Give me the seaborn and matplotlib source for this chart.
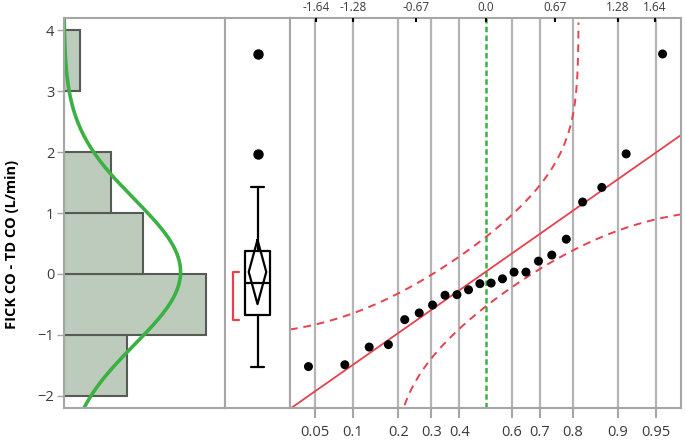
"""
Distribution of FICK CO - TD CO: histogram, outlier box plot and
normal quantile plot side by side.
"""

from statistics import NormalDist
import numpy as np
import matplotlib
matplotlib.use('Agg')
import matplotlib.pyplot as plt
import seaborn as sns


# values (sorted)
diff_values = [-1.52, -1.49, -1.20, -1.16, -0.75, -0.64, -0.51, -0.35, -0.34,
               -0.26, -0.16, -0.15, -0.08, 0.03, 0.03, 0.21, 0.31, 0.57,
               1.18, 1.42, 1.97, 3.61]
bin_edges = [-2, -1, 0, 1, 2, 3, 4]
y_ticks = [-2, -1, 0, 1, 2, 3, 4]
prob_ticks = [0.05, 0.1, 0.2, 0.3, 0.4, 0.6, 0.7, 0.8, 0.9, 0.95]
prob_labels = ['0.05', '0.1', '0.2', '0.3', '0.4', '0.6', '0.7', '0.8', '0.9', '0.95']
z_ticks = [-1.64, -1.28, -0.67, 0.0, 0.67, 1.28, 1.64]
z_labels = ['-1.64', '-1.28', '-0.67', '0.0', '0.67', '1.28', '1.64']
lilliefors_d = 0.184
y_label = 'FICK CO - TD CO (L/min)'

GRID = '#b4b4b4'
SPINE = '#a6a6a6'
RED = '#e8414e'
GREEN = '#3bb143'
BAR = '#bccbbb'
TXT = '#3a3a3a'

sns.set_theme(style='white')
plt.rcParams['font.family'] = ['Open Sans', 'DejaVu Sans']

data = np.sort(np.array(diff_values))
n = len(data)
mean = data.mean()
sd = data.std(ddof=1)
nd = NormalDist()
ylim = (-2.2, 4.2)
zlim = (-1.89, 1.89)

fig = plt.figure(figsize=(6.85, 4.44), dpi=100)
W, H = 685, 444
ax_h = fig.add_axes([64 / W, 36 / H, 161 / W, 390 / H])
ax_b = fig.add_axes([225 / W, 36 / H, 65 / W, 390 / H])
ax_q = fig.add_axes([290 / W, 36 / H, 391 / W, 390 / H])

for ax in (ax_h, ax_b, ax_q):
    ax.set_ylim(*ylim)
    for s in ax.spines.values():
        s.set_color(SPINE)
        s.set_linewidth(1.5)

# 1. horizontal histogram with normal curve
sns.histplot(y=data, bins=bin_edges, color=BAR, alpha=1, edgecolor='#565b56',
             linewidth=1.5, ax=ax_h)
yy = np.linspace(ylim[0], ylim[1], 300)
dens = np.array([NormalDist(mean, sd).pdf(v) for v in yy]) * n * 1.0
ax_h.plot(dens, yy, color=GREEN, lw=2.6, solid_capstyle='butt')
ax_h.set_xlim(0, 10.2)
ax_h.set_ylim(*ylim)
ax_h.set_xticks([])
ax_h.set_yticks(y_ticks)
ax_h.tick_params(axis='y', left=True, length=5, width=1, color=SPINE,
                 labelsize=10.5, labelcolor=TXT, pad=2)
ax_h.set_xlabel('')
ax_h.set_ylabel('')

# 2. outlier box plot with mean diamond and shortest half
q1, med, q3 = np.percentile(data, [25, 50, 75], method='weibull')
iqr = q3 - q1
lo = data[data >= q1 - 1.5 * iqr].min()
hi = data[data <= q3 + 1.5 * iqr].max()
fliers = data[(data < lo) | (data > hi)]
stats = [dict(med=med, q1=q1, q3=q3, whislo=lo, whishi=hi, fliers=fliers)]
ax_b.bxp(stats, positions=[0], widths=0.79, showfliers=True,
         boxprops=dict(color='black', lw=1.6),
         whiskerprops=dict(color='black', lw=1.6),
         capprops=dict(color='black', lw=1.6),
         medianprops=dict(color='black', lw=1.6),
         flierprops=dict(marker='o', markerfacecolor='black',
                         markeredgecolor='black', markersize=6.5))
ci = 2.0796 * sd / np.sqrt(n)
ax_b.plot([0, 0.27, 0, -0.27, 0], [mean + ci, mean, mean - ci, mean, mean + ci],
          color='black', lw=1.6)
half = n // 2
spans = [data[i + half - 1] - data[i] for i in range(n - half + 1)]
i0 = int(np.argmin(spans))
s_lo, s_hi = data[i0], data[i0 + half - 1]
ax_b.plot([-0.57, -0.75, -0.75, -0.57], [s_hi, s_hi, s_lo, s_lo], color=RED, lw=1.6)
ax_b.set_xlim(-1, 1)
ax_b.set_ylim(*ylim)
ax_b.set_xticks([])
ax_b.set_yticks([])

# 3. normal quantile plot
zq = [nd.inv_cdf((i + 1) / (n + 1)) for i in range(n)]
for p in prob_ticks:
    ax_q.axvline(nd.inv_cdf(p), color=GRID, lw=1.6, zorder=0)
ax_q.axvline(0, color=GREEN, lw=1.8, ls=(0, (2.2, 1.3)), zorder=1)

zz = np.linspace(zlim[0], zlim[1], 2000)
ax_q.plot(zz, mean + sd * zz, color=RED, lw=1.3, zorder=2)
up_z, up_y, lo_z, lo_y = [], [], [], []
for z in zz:
    p = nd.cdf(z)
    if p + lilliefors_d < 0.99999:
        up_z.append(z)
        up_y.append(mean + sd * nd.inv_cdf(p + lilliefors_d))
    if p - lilliefors_d > 0.00001:
        lo_z.append(z)
        lo_y.append(mean + sd * nd.inv_cdf(p - lilliefors_d))
ax_q.plot(up_z, up_y, color=RED, lw=1.4, ls=(0, (4, 3)), zorder=2)
ax_q.plot(lo_z, lo_y, color=RED, lw=1.4, ls=(0, (4, 3)), zorder=2)

sns.scatterplot(x=zq, y=data, color='black', s=42, edgecolor='none', ax=ax_q, zorder=3)
ax_q.set_xlim(*zlim)
ax_q.set_ylim(*ylim)
ax_q.set_yticks([])
ax_q.set_xticks([nd.inv_cdf(p) for p in prob_ticks])
ax_q.set_xticklabels(prob_labels)
ax_q.tick_params(axis='x', bottom=True, length=7, width=1.5, color=SPINE,
                 labelsize=10.5, labelcolor=TXT, pad=5)

top = ax_q.twiny()
top.set_xlim(*zlim)
top.set_xticks(z_ticks)
top.set_xticklabels(z_labels)
top.tick_params(axis='x', top=True, direction='in', length=3, width=1.5,
                color='black', labelsize=8.5, labelcolor=TXT, pad=3)
for s in top.spines.values():
    s.set_visible(False)

fig.text(12 / W, 1 - 244 / H, y_label, rotation=90, ha='center', va='center',
         fontsize=10.5, fontweight='bold', color='black')

plt.savefig('out.png', dpi=100)
plt.close(fig)
